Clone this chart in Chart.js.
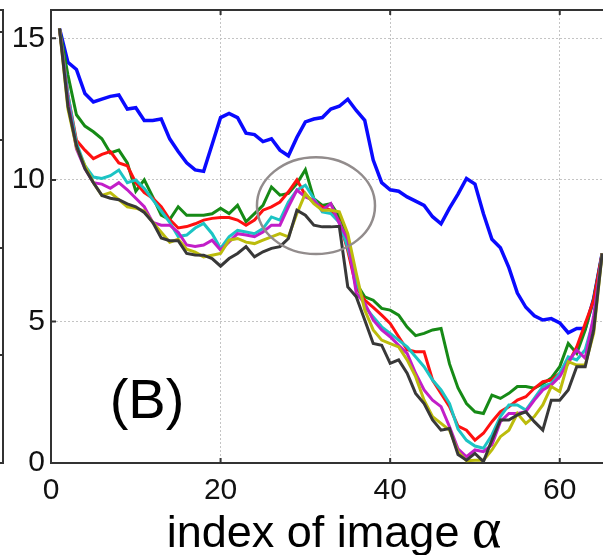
<!DOCTYPE html>
<html lang="en">
<head>
    <meta charset="UTF-8">
    <title>index of image alpha</title>
    <script src="https://cdn.jsdelivr.net/npm/chart.js"></script>
    <style>
        html, body {
            margin: 0;
            padding: 0;
            background: #fff;
            overflow: hidden;
        }
        .wrap {
            position: relative;
            width: 603px;
            height: 555px;
        }
    </style>
</head>
<body>
    <div class="wrap">
        <canvas id="curves" width="603" height="555"></canvas>
    </div>
    <script>
        // index of image (x) and the tick values
        const xIndex = [1, 2, 3, 4, 5, 6, 7, 8, 9, 10, 11, 12, 13, 14, 15, 16, 17, 18, 19, 20,
            21, 22, 23, 24, 25, 26, 27, 28, 29, 30, 31, 32, 33, 34, 35, 36, 37, 38, 39, 40,
            41, 42, 43, 44, 45, 46, 47, 48, 49, 50, 51, 52, 53, 54, 55, 56, 57, 58, 59, 60,
            61, 62, 63, 64, 65];
        const xTicks = [0, 20, 40, 60];
        const yTicks = [0, 5, 10, 15];

        const blueVals = [15.35, 14.15, 13.9, 13.05, 12.75, 12.85, 12.95, 13.0, 12.5, 12.55,
            12.1, 12.1, 12.15, 11.45, 11.0, 10.6, 10.35, 10.3, 11.25, 12.2,
            12.35, 12.2, 11.65, 11.6, 11.35, 11.45, 11.05, 10.85, 11.5, 12.05,
            12.15, 12.2, 12.5, 12.6, 12.85, 12.45, 12.1, 10.7, 9.9, 9.65,
            9.6, 9.4, 9.25, 9.1, 8.7, 8.45, 9.0, 9.5, 10.05, 9.85,
            8.8, 7.9, 7.6, 6.9, 6.0, 5.5, 5.2, 5.05, 5.1, 4.95,
            4.6, 4.75, 4.75, 5.8, 7.4];
        const greenVals = [15.35, 13.7, 12.3, 11.9, 11.7, 11.45, 10.95, 11.05, 10.6, 9.6,
            10.0, 9.4, 8.75, 8.6, 9.05, 8.75, 8.75, 8.75, 8.8, 9.0,
            8.81, 9.1, 8.52, 8.81, 9.1, 9.75, 9.46, 9.52, 9.87, 10.36,
            9.34, 9.1, 9.16, 8.7, 7.9, 6.35, 5.87, 5.75, 5.46, 5.4,
            5.22, 4.8, 4.5, 4.58, 4.7, 4.75, 3.5, 2.65, 2.1, 1.81,
            1.75, 2.4, 2.28, 2.46, 2.7, 2.7, 2.64, 2.8, 3.0, 3.4,
            4.22, 3.87, 4.7, 5.8, 7.4];
        const redVals = [15.35, 13.0, 11.4, 11.05, 10.75, 10.9, 11.0, 10.6, 10.5, 9.9,
            9.55, 9.35, 9.05, 8.6, 8.3, 8.35, 8.45, 8.58, 8.64, 8.67,
            8.67, 8.58, 8.4, 8.58, 8.93, 9.05, 9.22, 9.58, 10.0, 9.46,
            9.22, 9.05, 8.93, 8.55, 7.5, 6.2, 5.75, 5.5, 5.22, 4.93,
            4.46, 4.0, 3.93, 3.93, 2.93, 2.46, 1.99, 1.3, 1.16, 0.81,
            1.05, 1.46, 1.81, 1.99, 2.22, 2.34, 2.64, 2.87, 2.93, 3.16,
            3.52, 4.1, 4.93, 5.75, 7.4];
        const cyanVals = [15.35, 13.0, 11.3, 10.5, 10.1, 10.05, 10.15, 10.35, 9.9, 10.0,
            9.7, 9.3, 8.9, 8.5, 8.0, 8.05, 8.3, 8.46, 8.1, 7.58,
            7.99, 8.22, 8.16, 8.1, 8.28, 8.69, 8.58, 9.22, 9.64, 9.81,
            9.34, 8.87, 8.81, 8.5, 7.6, 6.46, 5.52, 5.16, 4.81, 4.58,
            4.34, 4.1, 3.75, 3.4, 2.93, 2.58, 2.1, 1.2, 0.8, 0.6,
            0.52, 0.99, 1.64, 2.05, 2.05, 1.87, 2.28, 2.7, 2.81, 3.16,
            3.75, 3.64, 4.0, 5.05, 7.4];
        const magentaVals = [15.35, 12.8, 11.1, 10.4, 9.9, 9.85, 9.7, 9.9, 9.65, 9.35,
            9.05, 8.5, 8.4, 8.4, 8.15, 7.7, 7.65, 7.7, 7.87, 7.52,
            7.81, 8.1, 8.05, 7.99, 8.16, 8.4, 8.4, 9.05, 9.64, 9.4,
            9.28, 8.93, 9.16, 8.46, 7.9, 6.0, 5.64, 5.05, 4.7, 4.46,
            4.16, 3.87, 3.17, 2.58, 2.22, 1.99, 1.28, 0.5, 0.22, 0.46,
            0.4, 0.64, 1.46, 1.75, 1.75, 1.81, 2.22, 2.58, 2.75, 3.05,
            3.58, 3.99, 3.7, 5.2, 7.4];
        const yellowVals = [15.35, 12.5, 11.15, 10.5, 9.9, 9.45, 9.55, 9.3, 9.05, 9.0,
            8.9, 8.5, 8.15, 7.8, 7.9, 7.55, 7.45, 7.28, 7.34, 7.4,
            7.87, 7.93, 7.8, 7.75, 7.87, 7.99, 8.1, 7.99, 8.81, 9.52,
            9.16, 8.93, 8.93, 8.87, 8.1, 6.7, 5.4, 4.7, 4.34, 4.22,
            4.1, 3.64, 3.05, 2.22, 1.64, 1.4, 1.16, 0.4, 0.08, 0.1,
            0.1, 0.46, 0.93, 1.16, 1.75, 1.4, 1.64, 2.05, 2.7, 2.52,
            3.58, 3.46, 3.46, 4.58, 7.4];
        const blackVals = [15.35, 12.6, 11.2, 10.4, 9.9, 9.45, 9.35, 9.3, 9.15, 9.05,
            8.85, 8.5, 7.95, 7.85, 7.85, 7.4, 7.35, 7.34, 7.22, 6.95,
            7.22, 7.4, 7.64, 7.28, 7.46, 7.58, 7.64, 7.93, 8.93, 8.75,
            8.4, 8.34, 8.34, 8.36, 6.22, 5.87, 5.05, 4.22, 4.16, 3.52,
            3.64, 3.17, 2.46, 2.1, 1.52, 1.16, 1.22, 0.3, 0.1, 0.34,
            0.05, 0.81, 1.52, 1.52, 1.7, 1.81, 1.46, 1.16, 2.22, 2.22,
            2.58, 3.4, 3.4, 4.7, 7.4];

        // highlighted region (data units)
        const ringCenter = [31.25, 9.09];
        const ringRadius = [6.96, 1.71];

        const sans = "'Liberation Sans', Arial, Helvetica, sans-serif";
        const serif = "'Liberation Serif', 'Times New Roman', serif";

        function toPoints(vals) {
            return vals.map((v, i) => ({ x: xIndex[i], y: v }));
        }

        function line(vals, color, width, order) {
            return {
                data: toPoints(vals),
                borderColor: color,
                borderWidth: width,
                pointRadius: 0,
                tension: 0,
                fill: false,
                order: order
            };
        }

        const decor = {
            id: 'decor',
            afterDraw(chart) {
                const ctx = chart.ctx;
                const a = chart.chartArea;
                const xs = chart.scales.x;
                const ys = chart.scales.y;
                ctx.save();

                // top border and inward ticks
                ctx.strokeStyle = '#333';
                ctx.lineWidth = 2;
                ctx.beginPath();
                ctx.moveTo(a.left - 1, a.top);
                ctx.lineTo(a.right, a.top);
                xTicks.slice(1).forEach(v => {
                    const px = xs.getPixelForValue(v);
                    ctx.moveTo(px, a.bottom);
                    ctx.lineTo(px, a.bottom - 5);
                    ctx.moveTo(px, a.top);
                    ctx.lineTo(px, a.top + 5);
                });
                yTicks.slice(1).forEach(v => {
                    const py = ys.getPixelForValue(v);
                    ctx.moveTo(a.left, py);
                    ctx.lineTo(a.left + 5, py);
                });
                ctx.stroke();

                // edge of the neighbouring panel
                ctx.beginPath();
                ctx.moveTo(0, a.top);
                ctx.lineTo(3, a.top);
                ctx.lineTo(3, a.bottom);
                ctx.lineTo(0, a.bottom);
                [32, 140, 248, 355].forEach(py => {
                    ctx.moveTo(3, py);
                    ctx.lineTo(-2, py);
                });
                ctx.stroke();

                // ellipse
                const cx = xs.getPixelForValue(ringCenter[0]);
                const cy = ys.getPixelForValue(ringCenter[1]);
                const rx = xs.getPixelForValue(ringCenter[0] + ringRadius[0]) - cx;
                const ry = cy - ys.getPixelForValue(ringCenter[1] + ringRadius[1]);
                ctx.strokeStyle = '#928c8c';
                ctx.lineWidth = 2.5;
                ctx.beginPath();
                ctx.ellipse(cx, cy, rx, ry, 0, 0, Math.PI * 2);
                ctx.stroke();

                // panel label
                ctx.fillStyle = '#000';
                ctx.textAlign = 'center';
                ctx.textBaseline = 'alphabetic';
                ctx.font = '56px ' + sans;
                ctx.fillText('(B)', 147, 418);

                // axis title with a serif alpha
                const t1 = 'index of image ';
                const t2 = '\u03B1';
                ctx.font = '45px ' + sans;
                const w1 = ctx.measureText(t1).width;
                ctx.font = '56px ' + serif;
                const w2 = ctx.measureText(t2).width;
                const startX = 334 - (w1 + w2) / 2;
                ctx.textAlign = 'left';
                ctx.font = '45px ' + sans;
                ctx.fillText(t1, startX, 547);
                ctx.font = '56px ' + serif;
                ctx.fillText(t2, startX + w1, 547);

                ctx.restore();
            }
        };

        new Chart(document.getElementById('curves'), {
            type: 'line',
            data: {
                datasets: [
                    line(blueVals, '#0a0aff', 3.5, 7),
                    line(greenVals, '#168a16', 3, 6),
                    line(redVals, '#ff1010', 3, 5),
                    line(cyanVals, '#1cc4c4', 3, 4),
                    line(magentaVals, '#c21ec8', 3, 3),
                    line(yellowVals, '#bcbc0c', 3, 2),
                    line(blackVals, '#383838', 3, 1)
                ]
            },
            options: {
                responsive: false,
                animation: false,
                layout: { padding: { top: 10, right: 0, left: 0, bottom: 0 } },
                plugins: {
                    legend: { display: false },
                    tooltip: { enabled: false }
                },
                scales: {
                    x: {
                        type: 'linear',
                        min: 0,
                        max: 65.1,
                        afterBuildTicks: s => { s.ticks = xTicks.map(v => ({ value: v })); },
                        afterFit: s => {
                            s.height = 92;
                            s.paddingLeft = 0;
                            s.paddingRight = 0;
                        },
                        grid: { color: '#c4c4c4', lineWidth: 1, drawTicks: false },
                        border: { display: true, color: '#333', width: 2, dash: [2, 2] },
                        ticks: {
                            padding: 10,
                            color: '#111',
                            maxRotation: 0,
                            autoSkip: false,
                            font: { size: 30, family: sans }
                        }
                    },
                    y: {
                        type: 'linear',
                        min: 0,
                        max: 16,
                        afterBuildTicks: s => { s.ticks = yTicks.map(v => ({ value: v })); },
                        afterFit: s => {
                            s.width = 51;
                            s.paddingTop = 0;
                            s.paddingBottom = 0;
                        },
                        grid: { color: '#c4c4c4', lineWidth: 1, drawTicks: false },
                        border: { display: true, color: '#333', width: 2, dash: [2, 2] },
                        ticks: {
                            padding: 6,
                            color: '#111',
                            font: { size: 30, family: sans }
                        }
                    }
                }
            },
            plugins: [decor]
        });
    </script>
</body>
</html>
